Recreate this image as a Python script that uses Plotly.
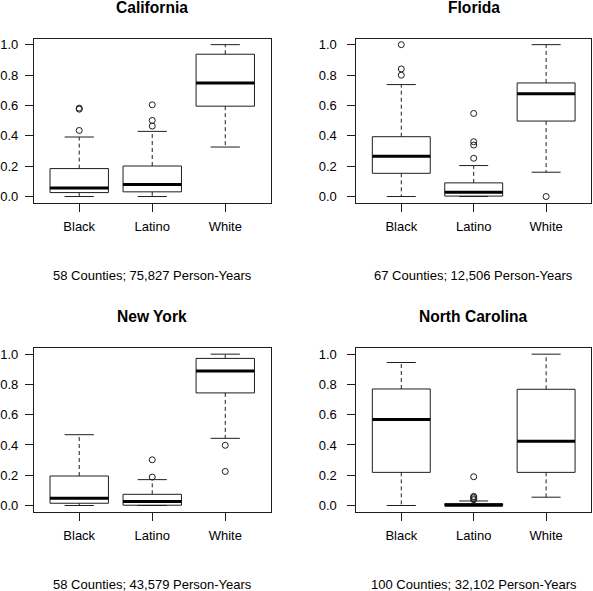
import plotly.graph_objects as go

categories = ["Black", "Latino", "White"]
states = ["California", "Florida", "New York", "North Carolina"]
captions = ["58 Counties; 75,827 Person-Years", "67 Counties; 12,506 Person-Years",
            "58 Counties; 43,579 Person-Years", "100 Counties; 32,102 Person-Years"]

# per state: values for [Black, Latino, White]
whisker_low = [[0.0, 0.0, 0.326], [0.0, 0.0, 0.160], [0.0, 0.0, 0.444], [0.0, 0.0, 0.055]]
q1 = [[0.026, 0.031, 0.595], [0.153, 0.003, 0.497], [0.015, 0.002, 0.744], [0.219, 0.0, 0.219]]
median = [[0.057, 0.079, 0.748], [0.265, 0.028, 0.676], [0.048, 0.026, 0.888], [0.569, 0.002, 0.425]]
q3 = [[0.184, 0.201, 0.937], [0.394, 0.090, 0.748], [0.195, 0.074, 0.972], [0.770, 0.013, 0.768]]
whisker_high = [[0.392, 0.429, 1.0], [0.737, 0.204, 1.0], [0.468, 0.171, 1.0], [0.945, 0.030, 1.0]]
outliers = [
    [[0.435, 0.575, 0.582], [0.464, 0.501, 0.604], []],
    [[0.799, 0.840, 1.0], [0.252, 0.339, 0.361, 0.547], [0.0]],
    [[], [0.188, 0.302], [0.398, 0.225]],
    [[], [0.038, 0.045, 0.055, 0.060, 0.190], []],
]
y_ticks = [0.0, 0.2, 0.4, 0.6, 0.8, 1.0]

W, H = 593, 591
xpix = [(33, 270), (356, 591)]
ypix = [(37.7, 202.3), (348.3, 512.3)]
HALF = 0.4
CAP = 0.2
LC = "#1e1e1e"
FONT = "Liberation Sans, Arial, sans-serif"

fig = go.Figure()
for s in range(4):
    r, c = divmod(s, 2)
    ax = "" if s == 0 else str(s + 1)
    xref, yref = "x" + ax, "y" + ax
    bx, by, mx, my, wx, wy, cx, cy, ox, oy = ([] for _ in range(10))
    for i in range(3):
        p = i + 1
        bx += [p - HALF, p + HALF, p + HALF, p - HALF, p - HALF, None]
        by += [q1[s][i], q1[s][i], q3[s][i], q3[s][i], q1[s][i], None]
        mx += [p - HALF, p + HALF, None]
        my += [median[s][i], median[s][i], None]
        wx += [p, p, None, p, p, None]
        wy += [q3[s][i], whisker_high[s][i], None, q1[s][i], whisker_low[s][i], None]
        cx += [p - CAP, p + CAP, None, p - CAP, p + CAP, None]
        cy += [whisker_high[s][i], whisker_high[s][i], None, whisker_low[s][i], whisker_low[s][i], None]
        for v in outliers[s][i]:
            ox.append(p)
            oy.append(v)
    common = dict(xaxis=xref, yaxis=yref, showlegend=False, hoverinfo="skip")
    fig.add_trace(go.Scatter(x=wx, y=wy, mode="lines", line=dict(color=LC, width=1, dash="4px,3px"), **common))
    fig.add_trace(go.Scatter(x=cx, y=cy, mode="lines", line=dict(color=LC, width=1), **common))
    fig.add_trace(go.Scatter(x=bx, y=by, mode="lines", line=dict(color=LC, width=1), **common))
    fig.add_trace(go.Scatter(x=mx, y=my, mode="lines", line=dict(color="black", width=3), **common))
    fig.add_trace(go.Scatter(x=ox, y=oy, mode="markers",
                             marker=dict(symbol="circle-open", size=6, color=LC, line=dict(width=1, color=LC)),
                             **common))

    x0, x1 = xpix[c]
    y0, y1 = ypix[r]
    xd = [x0 / W, x1 / W]
    yd = [1 - y1 / H, 1 - y0 / H]
    axis_common = dict(showline=True, mirror=True, linecolor=LC, linewidth=1, ticks="outside",
                       ticklen=8, tickcolor=LC, tickwidth=1, showgrid=False, zeroline=False,
                       tickfont=dict(family=FONT, size=13, color="black"), fixedrange=True)
    fig.layout["xaxis" + ax] = dict(domain=xd, range=[0.38, 3.62], tickvals=[1, 2, 3], ticktext=categories,
                                    anchor=yref, ticklabelstandoff=4, **axis_common)
    fig.layout["yaxis" + ax] = dict(domain=yd, range=[-0.04, 1.04], tickvals=y_ticks, tickformat=".1f",
                                    anchor=xref, ticklabelstandoff=4 if c == 0 else 8, **axis_common)
    xc = (x0 + x1) / 2 / W
    title_y = [7, 317][r]
    cap_y = [275, 585][r]
    fig.add_annotation(text="<b>%s</b>" % states[s], x=xc, y=1 - title_y / H, xref="paper", yref="paper",
                       showarrow=False, xanchor="center", yanchor="middle",
                       font=dict(family=FONT, size=15.6, color="black"))
    fig.add_annotation(text=captions[s], x=xc, y=1 - cap_y / H, xref="paper", yref="paper",
                       showarrow=False, xanchor="center", yanchor="middle",
                       font=dict(family=FONT, size=13, color="black"))

fig.update_layout(width=W, height=H, autosize=False, margin=dict(l=0, r=0, t=0, b=0, pad=0),
                  plot_bgcolor="white", paper_bgcolor="white")
fig.write_html("out.html", config={"displayModeBar": False},
               post_script="document.body.style.margin='0';document.body.style.overflow='hidden';")
